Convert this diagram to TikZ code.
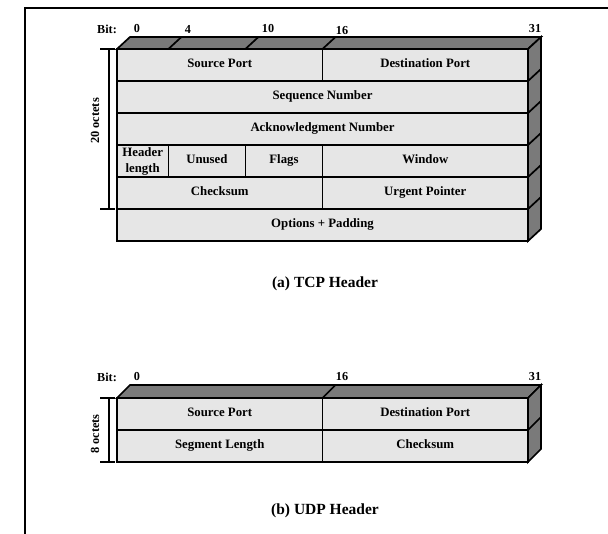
\documentclass[tikz,border=0pt]{standalone}
\usepackage{fontspec}
\setmainfont{Liberation Serif}
\definecolor{frontgray}{RGB}{230,230,230}
\definecolor{sidegray}{RGB}{122,122,122}
\begin{document}
\begin{tikzpicture}[x=1pt,y=-1pt,
  fldbase/.style={draw, fill=frontgray, line width=1.7pt, inner sep=0pt, outer sep=0pt,
    anchor=north west, align=center, minimum height=32pt,
    font=\fontsize{12.8}{16}\selectfont\bfseries},
  fld/.style={fldbase, text height=9pt, text depth=3pt},
  sideface/.style={draw, fill=sidegray, line width=1.7pt, line join=miter},
  slantln/.style={line width=1.7pt},
  bitlbl/.style={inner sep=0pt, font=\fontsize{12.2}{14}\selectfont\bfseries},
  captxt/.style={inner sep=0pt, font=\fontsize{15.5}{18}\selectfont\bfseries},
  brk/.style={line width=1.5pt},
  octlbl/.style={inner sep=0pt, rotate=90, font=\fontsize{12.4}{14}\selectfont\bfseries}]
\useasboundingbox (0,0) rectangle (608,534);
% frame
\draw[line width=2pt] (25,534) -- (25,8) -- (608,8);

% ===== TCP =====
\draw[sideface] (117,49) -- (130,37) -- (541,37) -- (528,49) -- cycle;
\draw[sideface] (528,49) -- (541,37) -- (541,229) -- (528,241) -- cycle;
\foreach \x in {168.4,245.4,322.5} \draw[slantln] (\x,49) -- (\x+13,37);
\foreach \y in {81,113,145,177,209} \draw[slantln] (528,\y) -- (541,\y-12);

\node[fld, minimum width=205.5pt] (tsrc) at (117,49) {Source Port};
\node[fld, minimum width=205.5pt] (tdst) at (322.5,49) {Destination Port};
\node[fld, minimum width=411pt] (tseq) at (117,81) {Sequence Number};
\node[fld, minimum width=411pt] (tack) at (117,113) {Acknowledgment Number};
\node[fldbase, minimum width=51.4pt] (thl) at (117,145) {Header\\length};
\node[fld, minimum width=77pt] (tun) at (168.4,145) {Unused};
\node[fld, minimum width=77.1pt] (tfl) at (245.4,145) {Flags};
\node[fld, minimum width=205.5pt] (twin) at (322.5,145) {Window};
\node[fld, minimum width=205.5pt] (tck) at (117,177) {Checksum};
\node[fld, minimum width=205.5pt] (turg) at (322.5,177) {Urgent Pointer};
\node[fld, minimum width=411pt] (topt) at (117,209) {Options + Padding};

\node[bitlbl] (tbit) at (107,29) {Bit:};
\node[bitlbl] (tb0) at (137,29) {0};
\node[bitlbl] (tb4) at (188,29) {4};
\node[bitlbl] (tb10) at (268,29) {10};
\node[bitlbl] (tb16) at (342,31) {16};
\node[bitlbl] (tb31) at (535,29) {31};

\coordinate (ta) at (109,49);
\coordinate (tb) at (109,209);
\draw[brk] (ta) -- (tb);
\draw[brk] (100,49) -- (115,49);
\draw[brk] (100,209) -- (115,209);
\node[octlbl] (toct) at (95,121) {20 octets};

\node[captxt] (tcap) at (325,284) {(a) TCP Header};

% ===== UDP =====
\draw[sideface] (117,398) -- (130,385) -- (541,385) -- (528,398) -- cycle;
\draw[sideface] (528,398) -- (541,385) -- (541,449) -- (528,462) -- cycle;
\draw[slantln] (322.5,398) -- (335.5,385);
\draw[slantln] (528,430) -- (541,417);

\node[fld, minimum width=205.5pt] (usrc) at (117,398) {Source Port};
\node[fld, minimum width=205.5pt] (udst) at (322.5,398) {Destination Port};
\node[fld, minimum width=205.5pt] (ulen) at (117,430) {Segment Length};
\node[fld, minimum width=205.5pt] (uck) at (322.5,430) {Checksum};

\node[bitlbl] (ubit) at (107,377) {Bit:};
\node[bitlbl] (ub0) at (137,377) {0};
\node[bitlbl] (ub16) at (342,377) {16};
\node[bitlbl] (ub31) at (535,377) {31};

\coordinate (ua) at (109,398);
\coordinate (ub) at (109,462);
\draw[brk] (ua) -- (ub);
\draw[brk] (100,398) -- (115,398);
\draw[brk] (100,462) -- (115,462);
\node[octlbl] (uoct) at (95,434) {8 octets};

\node[captxt] (ucap) at (325,511) {(b) UDP Header};
\end{tikzpicture}
\end{document}
